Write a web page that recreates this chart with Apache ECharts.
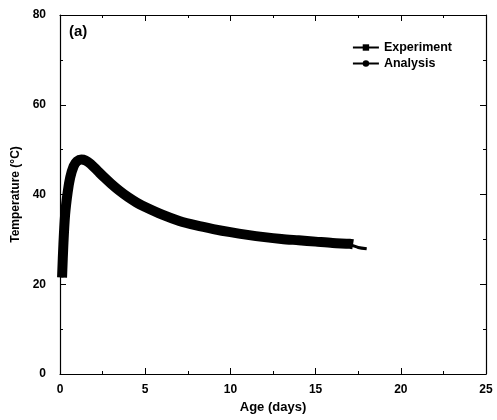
<!DOCTYPE html>
<html>
<head>
<meta charset="utf-8">
<script src="https://cdn.jsdelivr.net/npm/echarts@6/dist/echarts.min.js"></script>
<style>
  html, body { margin: 0; padding: 0; background: #fff; }
  #chart { width: 497px; height: 420px; }
</style>
</head>
<body>
<div id="chart"></div>
<script>
// values
var ageExp  = [0.12, 0.2, 0.3, 0.45, 0.6, 0.8, 1.0, 1.25, 1.5, 1.8, 2.2, 2.6, 3.0, 3.5, 4.0, 4.5, 5.0, 6.0, 7.0, 8.0, 9.0, 10.0, 11.0, 12.0, 13.0, 14.0, 15.0, 16.0, 17.0, 17.2];
var tempExp = [21.5, 29.0, 35.5, 40.5, 43.8, 46.3, 47.4, 47.8, 47.6, 46.8, 45.3, 43.8, 42.4, 40.8, 39.4, 38.2, 37.2, 35.5, 34.1, 33.1, 32.3, 31.6, 31.0, 30.5, 30.1, 29.8, 29.5, 29.2, 29.0, 28.9];
var ageAna  = [0.12, 0.2, 0.3, 0.45, 0.6, 0.8, 1.0, 1.25, 1.5, 1.8, 2.2, 2.6, 3.0, 3.5, 4.0, 4.5, 5.0, 6.0, 7.0, 8.0, 9.0, 10.0, 11.0, 12.0, 13.0, 14.0, 15.0, 16.0, 17.0, 17.5, 18.0];
var tempAna = [21.5, 29.0, 35.5, 40.5, 43.8, 46.3, 47.4, 47.8, 47.6, 46.8, 45.3, 43.8, 42.4, 40.8, 39.4, 38.2, 37.2, 35.5, 34.1, 33.1, 32.3, 31.6, 31.0, 30.5, 30.1, 29.8, 29.5, 29.2, 28.8, 28.2, 27.9];
var xTicks = [0, 5, 10, 15, 20, 25];
var yTicks = [0, 20, 40, 60, 80];

function pairs(xs, ys)
{
    var out = [];
    for (var i = 0; i < xs.length; i++) out.push([xs[i], ys[i]]);
    return out;
}

var font = 'Arial, "Liberation Sans", sans-serif';
var axisLine = { onZero: false, lineStyle: { color: '#000', width: 1.2 } };
var tick = { inside: true, length: 6, lineStyle: { color: '#000' } };
var minor = { show: true, splitNumber: 2, length: 3, lineStyle: { color: '#000' } };
var labelStyle = { color: '#000', fontFamily: font, fontWeight: 'bold', fontSize: 12 };

var myChart = echarts.init(document.getElementById('chart'));

var option = {
    animation: false,
    backgroundColor: '#fff',
    grid: { left: 60, right: 11, top: 15, bottom: 46 },
    graphic: [{
        type: 'text', left: 69, top: 24,
        style: { text: '(a)', fill: '#000', font: 'bold 15px ' + font }
    }],
    legend: {
        right: 40, top: 36, orient: 'vertical', itemGap: 3,
        itemWidth: 26, itemHeight: 8,
        textStyle: { color: '#000', fontFamily: font, fontWeight: 'bold', fontSize: 12.5 },
        data: ['Experiment', 'Analysis']
    },
    xAxis: [{
        type: 'value', min: 0, max: 25, interval: 5,
        name: 'Age (days)', nameLocation: 'middle', nameGap: 27,
        nameTextStyle: { color: '#000', fontFamily: font, fontWeight: 'bold', fontSize: 13 },
        axisLine: axisLine, axisTick: tick, minorTick: minor,
        axisLabel: Object.assign({ margin: 10, formatter: function (v) { return xTicks.indexOf(v) >= 0 ? v : ''; } }, labelStyle),
        splitLine: { show: false }
    }, {
        type: 'value', min: 0, max: 25, interval: 5, position: 'top',
        axisLine: axisLine, axisTick: tick, minorTick: minor,
        axisLabel: { show: false }, splitLine: { show: false }
    }],
    yAxis: [{
        type: 'value', min: 0, max: 80, interval: 20,
        name: 'Temperature (°C)', nameLocation: 'middle', nameGap: 36,
        nameTextStyle: { color: '#000', fontFamily: font, fontWeight: 'bold', fontSize: 12 },
        axisLine: axisLine, axisTick: tick, minorTick: minor,
        axisLabel: Object.assign({ margin: 14, formatter: function (v) { return yTicks.indexOf(v) >= 0 ? v : ''; } }, labelStyle),
        splitLine: { show: false }
    }, {
        type: 'value', min: 0, max: 80, interval: 20, position: 'right',
        axisLine: axisLine, axisTick: tick, minorTick: minor,
        axisLabel: { show: false }, splitLine: { show: false }
    }],
    series: [{
        name: 'Analysis',
        type: 'line',
        data: pairs(ageAna, tempAna),
        symbol: 'circle', symbolSize: 8, showSymbol: false,
        smooth: 0.3,
        lineStyle: { color: '#000', width: 3 },
        itemStyle: { color: '#000' },
        z: 2
    }, {
        name: 'Experiment',
        type: 'line',
        data: pairs(ageExp, tempExp),
        symbol: 'rect', symbolSize: 8, showSymbol: false,
        smooth: 0.3,
        lineStyle: { color: '#000', width: 10, cap: 'butt', join: 'round' },
        itemStyle: { color: '#000' },
        z: 3
    }]
};

myChart.setOption(option);
</script>
</body>
</html>
